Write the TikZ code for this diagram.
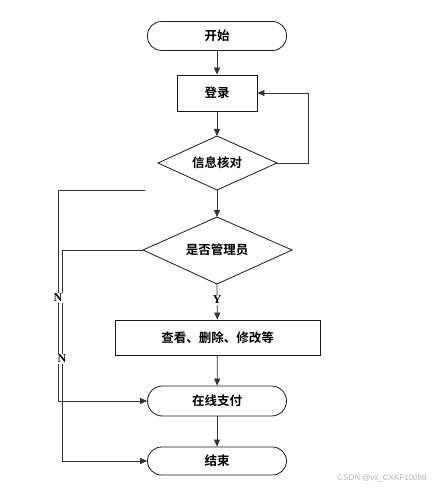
\documentclass[tikz,border=0pt]{standalone}
\usepackage{fontspec}
\setmainfont{Liberation Serif}
\newfontfamily\cjk{Noto Sans CJK SC}[BoldFont={Noto Sans CJK SC Bold}]
\usetikzlibrary{shapes.geometric,arrows.meta}
\begin{document}
\begin{tikzpicture}[x=1pt,y=-1pt,
  base/.style={draw=black!90,line width=0.8pt,font=\cjk\bfseries\fontsize{12.5}{14}\selectfont,inner sep=0pt},
  term/.style={base,rectangle,rounded corners=14pt,minimum width=139pt,minimum height=29pt},
  procbox/.style={base,rectangle},
  conn/.style={draw=black!80,line width=0.8pt},
  arr/.style={conn,-{Triangle[length=7pt,width=6pt]}},
  lbl/.style={fill=white,inner sep=1pt,font=\bfseries\fontsize{12}{14}\selectfont},
  dtext/.style={font=\cjk\bfseries\fontsize{12.5}{14}\selectfont,inner sep=0pt}]
\useasboundingbox (0,0) rectangle (433,489);
\node[term] (start) at (217,36) {开始};
\node[procbox,minimum width=80pt,minimum height=36pt] (login) at (217,93) {登录};
\path[base,draw] (158,163) coordinate (cl) -- (217,136) coordinate (ct) -- (277,163) coordinate (cr) -- (217,190) coordinate (cb) -- cycle;
\node[dtext] (checkt) at (217,163) {信息核对};
\path[base,draw] (143,250) coordinate (al) -- (217,217) coordinate (at) -- (292,250) coordinate (ar) -- (217,284) coordinate (ab) -- cycle;
\node[dtext] (admint) at (217,250) {是否管理员};
\node[procbox,minimum width=205pt,minimum height=35pt] (view) at (217.5,337.5) {查看、删除、修改等};
\node[term,minimum height=30pt,rounded corners=15pt] (pay) at (217,401) {在线支付};
\node[term,minimum height=28pt] (end) at (217,461) {结束};
\coordinate (freeL) at (145,190);
% main flow
\draw[arr] (start) -- (login);
\draw[arr] (login) -- (ct);
\draw[arr] (cb) -- (at);
\draw[arr] (ab) -- node[lbl,pos=0.45] (y) {Y} (view);
\draw[arr] (view) -- (pay);
\draw[arr] (pay) -- (end);
% loop back
\draw[arr] (cr) -- (308,163) -- (308,93) -- (login.east);
% N branches
\draw[arr] (freeL) -- (58,190) -- (58,401) -- (pay.west);
\draw[arr] (al) -- (62,250) -- (62,461) -- (end.west);
\node[lbl] (n1) at (58,298) {N};
\node[lbl] (n2) at (62,359) {N};
\node[font=\fontspec{Liberation Sans}\fontsize{8}{9}\selectfont,text=black!30] (wm) at (382,478) {CSDN @vx\_CXKF10088};
\end{tikzpicture}
\end{document}
